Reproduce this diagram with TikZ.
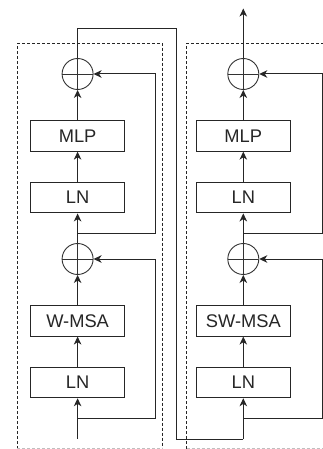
\documentclass[tikz,border=0pt]{standalone}
\usepackage{fontspec}
\setmainfont{Liberation Sans}
\usetikzlibrary{arrows.meta}
\begin{document}
\begin{tikzpicture}[x=1pt,y=-1pt,
  blk/.style={draw=black!85, line width=1pt, minimum width=94pt, minimum height=30.5pt,
    inner sep=0pt, font=\fontsize{18.3}{20}\selectfont, text=black!85, fill=white},
  plus/.style={circle, draw=black!80, line width=0.9pt, minimum size=31pt, inner sep=0pt,
    path picture={\draw[line width=0.9pt, black!80]
      (path picture bounding box.west) -- (path picture bounding box.east)
      (path picture bounding box.north) -- (path picture bounding box.south);}},
  wire/.style={draw=black!85, line width=1pt},
  arr/.style={wire, -{Stealth[length=8pt,width=7.5pt,inset=2.4pt]}},
  stage/.style={draw=black!85, line width=0.9pt, dash pattern=on 3pt off 2pt}]
  \fill[white] (0,0) rectangle (323,449);
  \useasboundingbox (0,0) rectangle (323,449);

  % dashed outlines of the two blocks (lower edge lighter)
  \draw[stage] (17.3,448.6) -- (17.3,43.3) -- (162.7,43.3) -- (162.7,448.6);
  \draw[stage, draw=black!25] (17.3,448.6) -- (162.7,448.6);
  \draw[stage] (186.7,448.6) -- (186.7,43.3) -- (340,43.3);
  \draw[stage, draw=black!25] (186.7,448.6) -- (340,448.6);

  % left block: W-MSA
  \node[plus] (addA2) at (77.6,74) {};
  \node[blk] (mlpA) at (77.6,135.9) {MLP};
  \node[blk] (lnA2) at (77.6,197.7) {LN};
  \node[plus] (addA1) at (77.6,259) {};
  \node[blk] (msaA) at (77.6,320.8) {W-MSA};
  \node[blk] (lnA1) at (77.6,382.5) {LN};
  \coordinate (inA) at (77.6,438.5);
  \coordinate (skipA1) at (77.6,418.3);
  \coordinate (skipA2) at (77.6,233.3);

  % right block: SW-MSA
  \node[plus] (addB2) at (243.3,74) {};
  \node[blk] (mlpB) at (243.3,135.9) {MLP};
  \node[blk] (lnB2) at (243.3,197.7) {LN};
  \node[plus] (addB1) at (243.3,259) {};
  \node[blk] (msaB) at (243.3,320.8) {SW-MSA};
  \node[blk] (lnB1) at (243.3,382.5) {LN};
  \coordinate (inB) at (243.3,439);
  \coordinate (skipB1) at (243.3,418.3);
  \coordinate (skipB2) at (243.3,233.3);
  \coordinate (outB) at (243.3,8.5);

  % main paths
  \draw[arr] (inA) -- (lnA1);
  \draw[arr] (lnA1) -- (msaA);
  \draw[arr] (msaA) -- (addA1);
  \draw[arr] (addA1) -- (lnA2);
  \draw[arr] (lnA2) -- (mlpA);
  \draw[arr] (mlpA) -- (addA2);

  \draw[arr] (inB) -- (lnB1);
  \draw[arr] (lnB1) -- (msaB);
  \draw[arr] (msaB) -- (addB1);
  \draw[arr] (addB1) -- (lnB2);
  \draw[arr] (lnB2) -- (mlpB);
  \draw[arr] (mlpB) -- (addB2);
  \draw[arr] (addB2) -- (outB);

  % residual connections
  \draw[arr] (skipA1) -- (155.5,418.3) |- (addA1.east);
  \draw[arr] (skipA2) -- (155.5,233.3) |- (addA2.east);
  \draw[arr] (skipB1) -- (322.3,418.3) |- (addB1.east);
  \draw[arr] (skipB2) -- (322.3,233.3) |- (addB2.east);

  % link from the first block into the second
  \draw[wire] (addA2.north) -- (77.6,28.3) -- (176.3,28.3) -- (176.3,439) -- (inB);
\end{tikzpicture}
\end{document}
